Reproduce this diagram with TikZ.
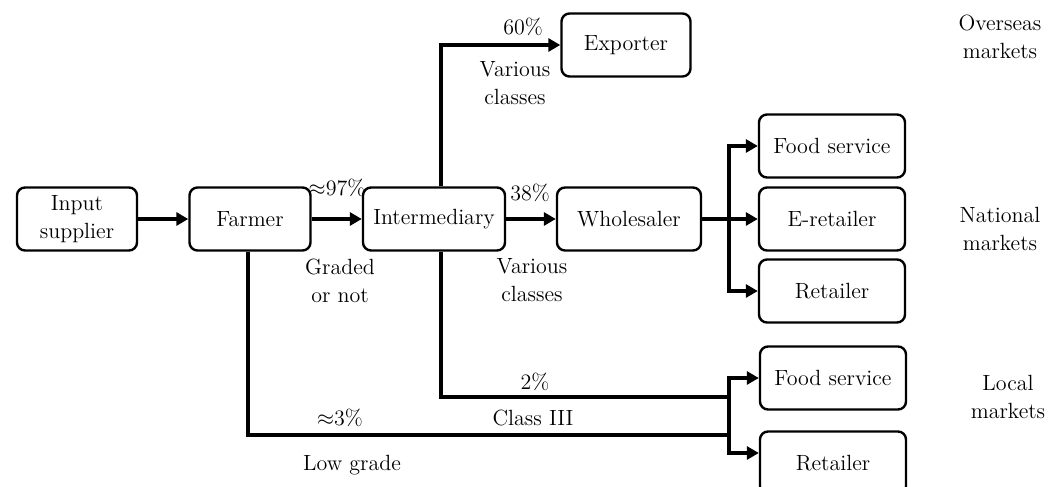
\documentclass[tikz,border=0pt]{standalone}
\usepackage{amsmath,amssymb}
\usepackage{xcolor}
\usepackage{tikz}
\usetikzlibrary{arrows.meta,calc}
\definecolor{InkDark}{HTML}{000000}

\begin{document}
\begin{tikzpicture}[x=0.5pt,y=-0.5pt,
    box/.style={draw=InkDark, line width=1.2pt, rounded corners=4pt,
      minimum height=31.5pt, align=center, inner sep=2pt,
      font=\fontsize{11}{14}\selectfont, text=InkDark},
    lbl/.style={align=center, font=\fontsize{11}{14}\selectfont, text=InkDark},
    flow/.style={draw=InkDark, line width=1.7pt},
    arr/.style={flow, -{Triangle[length=6pt,width=6.5pt]}},
    twoarr/.style={flow, {Triangle[length=6pt,width=6.5pt]}-{Triangle[length=6pt,width=6.5pt]}}]
  \useasboundingbox (0,0) rectangle (1052,486);

  % main chain
  \node[box, minimum width=60pt]   (input)  at (77,219)  {Input\\supplier};
  \node[box, minimum width=60.5pt] (farmer) at (250,219) {Farmer};
  \node[box, minimum width=71pt]   (inter)  at (434,219) {Intermediary};
  \node[box, minimum width=64.5pt] (export) at (626,45)  {Exporter};
  \node[box, minimum width=72pt]   (whole)  at (629,219) {Wholesaler};

  % national and local outlets
  \node[box, minimum width=73pt] (foodnat) at (832,146) {Food service};
  \node[box, minimum width=73pt] (eretail) at (832,219) {E-retailer};
  \node[box, minimum width=73pt] (retnat)  at (832,291) {Retailer};
  \node[box, minimum width=73pt] (foodloc) at (833,378) {Food service};
  \node[box, minimum width=73pt] (retloc)  at (833,463) {Retailer};

  \coordinate (natjoin)   at (729,219);
  \coordinate (classjoin) at (729,397);
  \coordinate (lowjoin)   at (729,435);

  \draw[arr] (input) -- (farmer);
  \draw[arr] (farmer) -- (inter);
  \draw[arr] (inter) -- (whole);
  \draw[arr] ([xshift=3.5pt]inter.north) |- (export.west);
  \draw[arr] (whole) -- (eretail);
  \draw[twoarr] (foodnat.west) -| (natjoin) |- (retnat.west);

  \draw[flow] ([xshift=3.5pt]inter.south) |- (classjoin);
  \draw[flow] ([xshift=-1pt]farmer.south) |- (lowjoin);
  \draw[twoarr] (foodloc.west) -| (classjoin) |- ([yshift=5pt]retloc.west);

  % flow labels
  \node[lbl] (lab97)   at (337,188) {$\approx$97\%};
  \node[lbl] (labgrd)  at (340,281) {Graded\\or not};
  \node[lbl] (lab60)   at (523,27)  {60\%};
  \node[lbl] (labvar1) at (515,83)  {Various\\classes};
  \node[lbl] (lab38)   at (530,193) {38\%};
  \node[lbl] (labvar2) at (532,280) {Various\\classes};
  \node[lbl] (lab2)    at (535,382) {2\%};
  \node[lbl] (labcls)  at (533,418) {Class III};
  \node[lbl] (lab3)    at (340,418) {$\approx$3\%};
  \node[lbl] (lablow)  at (352,465) {Low grade};

  % market levels
  \node[lbl] (overseas) at (1000,37)  {Overseas\\markets};
  \node[lbl] (national) at (1000,229) {National\\markets};
  \node[lbl] (local)    at (1008,397) {Local\\markets};
\end{tikzpicture}
\end{document}
